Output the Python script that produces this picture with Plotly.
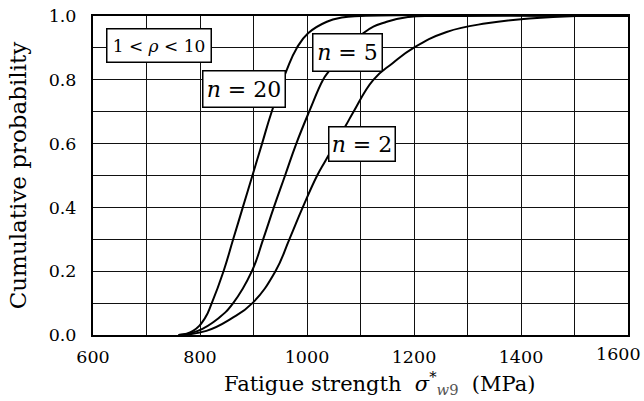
import plotly.graph_objects as go

# ---- data ----
x_n20 = [760, 787, 809, 822, 844, 862, 880, 898, 916, 934, 962, 981, 1002, 1037, 1065, 1100, 1600]
y_n20 = [0, 0.013, 0.052, 0.1, 0.2, 0.3, 0.4, 0.5, 0.6, 0.7, 0.83, 0.9, 0.946, 0.982, 0.995, 1.0, 1.0]

x_n5 = [760, 796, 834, 862, 897, 918, 938, 959, 980, 1004, 1030, 1040, 1105, 1149, 1190, 1250, 1600]
y_n5 = [0, 0.013, 0.052, 0.1, 0.2, 0.3, 0.4, 0.5, 0.6, 0.7, 0.8, 0.825, 0.946, 0.982, 0.997, 1.0, 1.0]

x_n2 = [760, 812, 859, 898, 941, 967, 992, 1019, 1034, 1073, 1087, 1124, 1160, 1199, 1261, 1336, 1460, 1600]
y_n2 = [0, 0.013, 0.052, 0.1, 0.2, 0.3, 0.4, 0.5, 0.545, 0.658, 0.7, 0.8, 0.852, 0.9, 0.95, 0.977, 0.997, 1.0]

x_tick_vals = [600, 800, 1000, 1200, 1400, 1600]
x_tick_text = ["600", "800", "1000", "1200", "1400", ""]
y_tick_vals = [0.0, 0.2, 0.4, 0.6, 0.8, 1.0]
y_tick_text = ["0.0", "0.2", "0.4", "0.6", "0.8", "1.0"]

FONT = "DejaVu Serif"

fig = go.Figure()
for xs, ys in [(x_n20, y_n20), (x_n5, y_n5), (x_n2, y_n2)]:
    fig.add_trace(go.Scatter(x=xs, y=ys, mode="lines",
                             line=dict(color="black", width=2, shape="spline", smoothing=1.3),
                             showlegend=False, hoverinfo="skip"))

grid = dict(showgrid=True, gridcolor="#111111", gridwidth=1.3)

fig.update_xaxes(range=[600, 1600], tickmode="array", tickvals=x_tick_vals, ticktext=x_tick_text,
                 ticks="", ticklabelstandoff=5, zeroline=False, showline=True, linecolor="black",
                 linewidth=2, mirror=True, automargin=False,
                 tickfont=dict(family=FONT, size=17.5, color="black"),
                 minor=dict(tickmode="linear", tick0=600, dtick=100, showgrid=True,
                            gridcolor="#111111", gridwidth=1.3, ticks=""),
                 **grid)
fig.update_yaxes(range=[0, 1], tickmode="array", tickvals=y_tick_vals, ticktext=y_tick_text,
                 ticks="", ticklabelstandoff=11, zeroline=False, showline=True, linecolor="black",
                 linewidth=2, mirror=True, automargin=False,
                 tickfont=dict(family=FONT, size=17.5, color="black"),
                 minor=dict(tickmode="linear", tick0=0, dtick=0.1, showgrid=True,
                            gridcolor="#111111", gridwidth=1.3, ticks=""),
                 title=dict(text="Cumulative probability", standoff=16,
                            font=dict(family=FONT, size=23, color="black")),
                 **grid)

box = dict(showarrow=False, bgcolor="white", bordercolor="black", borderwidth=1.5,
           borderpad=0, xref="x", yref="y", xanchor="center", yanchor="middle", align="center")
fig.add_annotation(x=723, y=0.908, text="1 &lt; <i>ρ</i> &lt; 10", width=103, height=32,
                   font=dict(family=FONT, size=17, color="black"), **box)
fig.add_annotation(x=883, y=0.772, text="<i>n</i> = 20", width=81, height=35,
                   font=dict(family=FONT, size=22, color="black"), **box)
fig.add_annotation(x=1075, y=0.885, text="<i>n</i> = 5", width=68, height=36,
                   font=dict(family=FONT, size=22, color="black"), **box)
fig.add_annotation(x=1103, y=0.600, text="<i>n</i> = 2", width=65, height=33,
                   font=dict(family=FONT, size=22, color="black"), **box)

fig.add_annotation(x=1600, y=0, xref="x", yref="paper", xanchor="right", yanchor="top",
                   xshift=15, yshift=-7, showarrow=False, text="1600",
                   font=dict(family=FONT, size=17.5, color="black"))

fig.add_annotation(x=0.535, y=-0.15, xref="paper", yref="paper", xanchor="center",
                   yanchor="middle", showarrow=False,
                   text="Fatigue strength\u00a0\u00a0<i>σ</i><sup>*</sup>"
                        "<sub><span style='color:#555'><i>w</i>9</span></sub>\u00a0\u00a0(MPa)",
                   font=dict(family=FONT, size=21, color="black"))

fig.update_layout(width=644, height=401, margin=dict(l=93, r=16, t=16, b=66),
                  plot_bgcolor="white", paper_bgcolor="white", template="none",
                  font=dict(family=FONT, color="black"))

fig.write_html("out.html")
